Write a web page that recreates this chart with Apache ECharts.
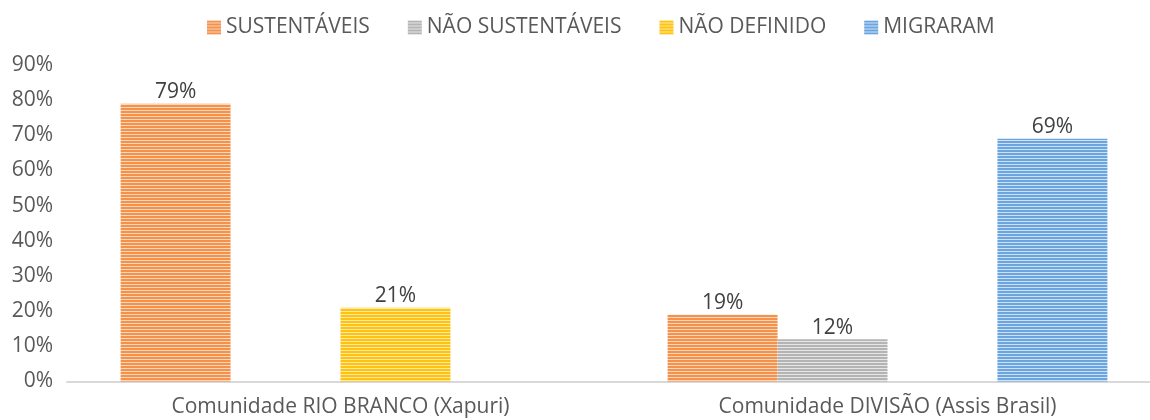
<!DOCTYPE html>
<html>
<head>
<meta charset="utf-8">
<script src="https://cdn.jsdelivr.net/npm/echarts@6/dist/echarts.min.js"></script>
<style>
  html, body { margin: 0; background: #ffffff; }
  #chart { width: 1150px; height: 420px; }
</style>
</head>
<body>
<div id="chart"></div>
<script>
const categories = ['Comunidade RIO BRANCO (Xapuri)', 'Comunidade DIVISÃO (Assis Brasil)'];
const seriesNames = ['SUSTENTÁVEIS', 'NÃO SUSTENTÁVEIS', 'NÃO DEFINIDO', 'MIGRARAM'];
const sustentaveis = [79, 19];
const naoSustentaveis = [null, 12];
const naoDefinido = [21, null];
const migraram = [null, 69];

const FONT = 'Open Sans';
const FS = 21;

// horizontal stripe fill like the excel pattern
function stripes(color, light) {
  const c = document.createElement('canvas');
  c.width = 4;
  c.height = 3;
  const ctx = c.getContext('2d');
  ctx.fillStyle = light;
  ctx.fillRect(0, 0, 4, 3);
  ctx.fillStyle = color;
  ctx.fillRect(0, 0, 4, 2);
  return { image: c, repeat: 'repeat' };
}

const fills = [
  stripes('#f4914b', '#fbd6bb'),
  stripes('#b4b4b4', '#e6e6e6'),
  stripes('#ffc20e', '#ffe9a6'),
  stripes('#6aa5df', '#cfe2f5')
];
const seriesData = [sustentaveis, naoSustentaveis, naoDefinido, migraram];

const chart = echarts.init(document.getElementById('chart'));
chart.setOption({
  animation: false,
  textStyle: { fontFamily: FONT },
  legend: {
    top: 12,
    left: 202,
    itemWidth: 14,
    itemHeight: 14,
    itemGap: 38,
    icon: 'rect',
    textStyle: { fontSize: FS, color: '#595959', fontFamily: FONT }
  },
  grid: { left: 67, width: 1094, top: 65, bottom: 38.5, outerBoundsMode: 'none' },
  xAxis: {
    type: 'category',
    data: categories,
    axisTick: { show: false },
    axisLine: { lineStyle: { color: '#d9d9d9', width: 2 } },
    axisLabel: { fontSize: FS, color: '#595959', margin: 15, fontFamily: FONT }
  },
  yAxis: {
    type: 'value',
    min: 0,
    max: 90,
    interval: 10,
    splitLine: { show: false },
    axisLine: { show: false },
    axisTick: { show: false },
    axisLabel: {
      formatter: '{value}%',
      fontSize: FS,
      color: '#595959',
      margin: 14,
      padding: [10, 0, 0, 0],
      fontFamily: FONT
    }
  },
  series: seriesNames.map((name, i) => ({
    name: name,
    type: 'bar',
    data: seriesData[i],
    barGap: '0%',
    barCategoryGap: '19.6%',
    itemStyle: { color: fills[i] },
    label: {
      show: true,
      position: 'top',
      distance: 1,
      formatter: '{c}%',
      fontSize: FS,
      color: '#404040',
      fontFamily: FONT
    }
  }))
});
</script>
</body>
</html>
